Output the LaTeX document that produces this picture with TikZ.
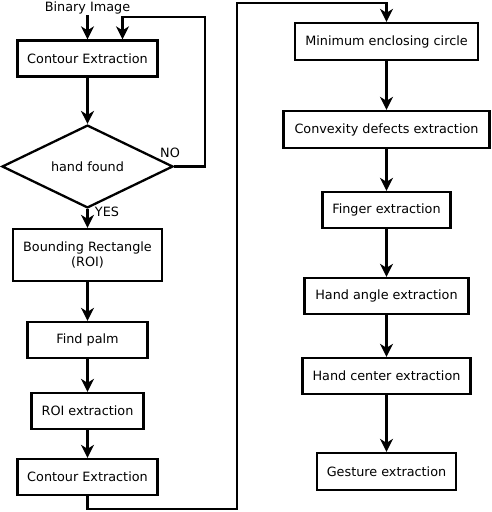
\documentclass[tikz,border=0pt]{standalone}
\usepackage{fontspec}
\setmainfont{DejaVu Sans}
\usetikzlibrary{shapes.geometric,arrows.meta}
\begin{document}
\begin{tikzpicture}[x=1pt,y=-1pt,
  font=\fontsize{12.8}{15}\selectfont,
  box/.style={draw,line width=2.3pt,rectangle,inner sep=0pt,align=center},
  arr/.style={draw,line width=2.3pt,-{Stealth[length=13pt,width=13pt,inset=4pt]}},
  lbl/.style={inner sep=1pt}]
\useasboundingbox (0,0) rectangle (492,512);
% left column
\node[lbl] (bin) at (87.5,8) {Binary Image};
\node[box,minimum width=140pt,minimum height=36pt] (c1) at (87.5,58.5) {Contour Extraction};
\node[draw,line width=2.3pt,diamond,inner sep=0pt,minimum width=171pt,minimum height=75pt] (d) at (87.5,166.5) {hand found};
\node[box,minimum width=149pt,minimum height=52pt] (br) at (87.5,255) {Bounding Rectangle\\(ROI)};
\node[box,minimum width=120pt,minimum height=36pt] (fp) at (87.5,340) {Find palm};
\node[box,minimum width=112pt,minimum height=36pt] (roi) at (87.5,411) {ROI extraction};
\node[box,minimum width=140pt,minimum height=36pt] (c2) at (87.5,477) {Contour Extraction};
\node[lbl] (no) at (170,153) {NO};
\node[lbl] (yes) at (107,212) {YES};
% right column
\node[box,minimum width=183pt,minimum height=37pt] (m) at (386.5,41.5) {Minimum enclosing circle};
\node[box,minimum width=206pt,minimum height=37pt] (cv) at (386.5,129.5) {Convexity defects extraction};
\node[box,minimum width=128pt,minimum height=36pt] (fe) at (386.5,210) {Finger extraction};
\node[box,minimum width=164pt,minimum height=36pt] (ha) at (386.5,296) {Hand angle extraction};
\node[box,minimum width=168pt,minimum height=36pt] (hc) at (386.5,376) {Hand center extraction};
\node[box,minimum width=139pt,minimum height=37pt] (ge) at (386.5,471.5) {Gesture extraction};
\coordinate (loop) at (205,17);
\coordinate (bottom) at (237,509);
\coordinate (top) at (237,3);
% connectors
\draw[arr] (bin.south) -- (c1.north);
\draw[arr] (c1.south) -- (d.north);
\draw[arr] (d.east) -| (loop) -| ([xshift=35pt]c1.north);
\draw[arr] (d.south) -- (br.north);
\draw[arr] (br.south) -- (fp.north);
\draw[arr] (fp.south) -- (roi.north);
\draw[arr] (roi.south) -- (c2.north);
\draw[arr] (c2.south) |- (bottom) -- (top) -| (m.north);
\draw[arr] (m.south) -- (cv.north);
\draw[arr] (cv.south) -- (fe.north);
\draw[arr] (fe.south) -- (ha.north);
\draw[arr] (ha.south) -- (hc.north);
\draw[arr] (hc.south) -- (ge.north);
\end{tikzpicture}
\end{document}
